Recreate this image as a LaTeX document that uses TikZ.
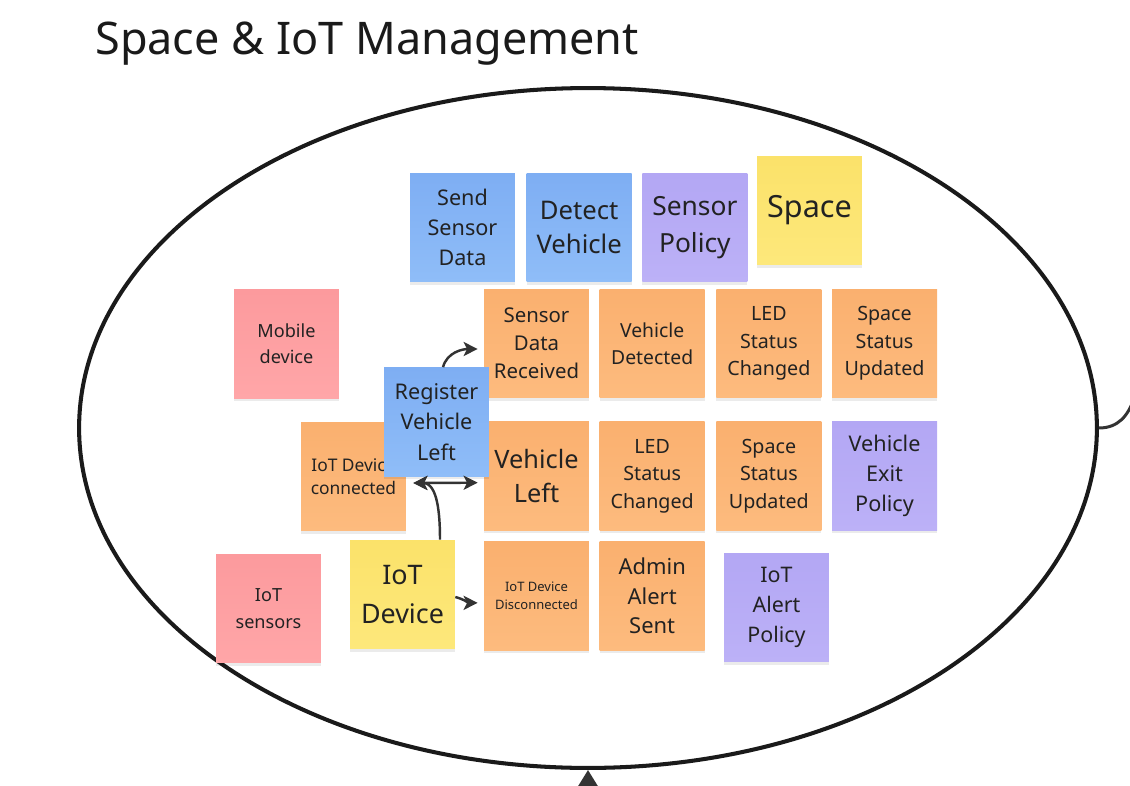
\documentclass[tikz,border=0pt]{standalone}
\usepackage{fontspec}
\setmainfont{Noto Sans}
\usepackage{xcolor}
\usetikzlibrary{arrows.meta,positioning,shapes.geometric,shadows}

\definecolor{inkgray}{HTML}{222222}
\definecolor{rimgray}{HTML}{1A1A1A}
\definecolor{wiregray}{HTML}{333333}
\definecolor{blueA}{HTML}{7EAEF3}
\definecolor{blueB}{HTML}{8FBDF8}
\definecolor{orangeA}{HTML}{FAB06F}
\definecolor{orangeB}{HTML}{FDBB7E}
\definecolor{purpleA}{HTML}{B3A7F4}
\definecolor{purpleB}{HTML}{BCB1F7}
\definecolor{yellowA}{HTML}{FBE26A}
\definecolor{yellowB}{HTML}{FDE87B}
\definecolor{pinkA}{HTML}{FC9A9D}
\definecolor{pinkB}{HTML}{FFA6A8}

\newcommand{\notefont}[2]{\fontsize{#1}{#2}\selectfont}

\begin{document}
\begin{tikzpicture}[
  x=0.02cm, y=-0.02cm,
  sticky/.style={minimum width=2.1cm, minimum height=2.18cm, inner sep=1pt,
    align=center, text=inkgray,
    drop shadow={shadow xshift=0pt, shadow yshift=-1.5pt, opacity=0.08, fill=black}},
  bluenote/.style={sticky, top color=blueA, bottom color=blueB},
  orangenote/.style={sticky, top color=orangeA, bottom color=orangeB},
  purplenote/.style={sticky, top color=purpleA, bottom color=purpleB},
  yellownote/.style={sticky, top color=yellowA, bottom color=yellowB},
  pinknote/.style={sticky, top color=pinkA, bottom color=pinkB},
  arr/.style={-{Stealth[length=8pt, width=8pt, inset=2pt]}, line width=1.4pt, draw=wiregray},
  arrtwo/.style={{Stealth[length=8pt, width=8pt, inset=2pt]}-{Stealth[length=8pt, width=8pt, inset=2pt]},
    line width=1.4pt, draw=wiregray},
  arrbig/.style={-{Triangle[length=0.34cm, width=0.4cm]}, line width=1.7pt, draw=wiregray}
]
  \useasboundingbox (0,0) rectangle (1130,785);
  \clip (0,0) rectangle (1130,785);

  \node[anchor=base west, inner sep=0, text=rimgray, font=\notefont{25.6}{30}] (title) at (95,54)
    {Space \& IoT Management};

  % bounded context
  \node[ellipse, draw=rimgray, line width=2.3pt, minimum width=20.36cm, minimum height=13.6cm] (zone) at (588,428) {};

  % commands, policies, aggregate
  \node[bluenote, font=\notefont{12.3}{17}] (sendd) at (462.5,227.5) {Send\\Sensor\\Data};
  \node[bluenote, right=0.22cm of sendd, font=\notefont{14.6}{19.5}] (detect) {Detect\\Vehicle};
  \node[purplenote, right=0.2cm of detect, font=\notefont{15}{21}] (senspol) {Sensor\\Policy};
  \node[yellownote, font=\notefont{17.4}{22}] (space) at (809.5,210.5) {Space};

  % events
  \node[orangenote, font=\notefont{11.6}{16}] (sdrec) at (536.5,343.5) {Sensor\\Data\\Received};
  \node[orangenote, right=0.2cm of sdrec, font=\notefont{11}{15.6}] (vdet) {Vehicle\\Detected};
  \node[orangenote, right=0.22cm of vdet, font=\notefont{11.2}{15.6}] (ledone) {LED\\Status\\Changed};
  \node[orangenote, right=0.2cm of ledone, font=\notefont{11.2}{15.6}] (sstatone) {Space\\Status\\Updated};

  \node[orangenote, below=0.46cm of sdrec, font=\notefont{14.4}{19.3}] (vleft) {Vehicle\\Left};
  \node[orangenote, right=0.2cm of vleft, font=\notefont{11.2}{15.6}] (ledtwo) {LED\\Status\\Changed};
  \node[orangenote, right=0.22cm of ledtwo, font=\notefont{11.2}{15.6}] (sstattwo) {Space\\Status\\Updated};
  \node[purplenote, right=0.2cm of sstattwo, font=\notefont{12.3}{17}] (vexit) {Vehicle\\Exit\\Policy};

  \node[orangenote, below=0.2cm of vleft, font=\notefont{7.4}{9.8}] (iotdis) {IoT Device\\Disconnected};
  \node[orangenote, right=0.2cm of iotdis, font=\notefont{12.5}{17}] (admin) {Admin\\Alert\\Sent};
  \node[purplenote, font=\notefont{12.2}{17}] (iotpol) at (776.5,607.5) {IoT\\Alert\\Policy};

  % actors and devices
  \node[pinknote, font=\notefont{10.3}{15}] (mobile) at (286.5,344) {Mobile\\device};
  \node[orangenote, font=\notefont{9.9}{13.2}] (iotcon) at (353.5,476.5) {IoT Device\\connected};
  \node[pinknote, font=\notefont{10.3}{15}] (sensors) at (268.5,608.5) {IoT\\sensors};
  \node[yellownote, font=\notefont{15.3}{21.7}] (iotdev) at (402.5,594.5) {IoT\\Device};
  \node[bluenote, font=\notefont{12.3}{17.5}] (regvl) at (436.5,422) {Register\\Vehicle\\Left};

  % links
  \draw[arr] ([shift={(6.5,0)}]regvl.north) to[out=75,in=180] ([shift={(-6,5.5)}]sdrec.west);
  \draw[arrtwo] ([shift={(7,6.5)}]iotcon.east) -- ([shift={(-6,6.5)}]vleft.west);
  \draw[arr] ([shift={(37.5,0)}]iotdev.north) to[out=90,in=0] ([shift={(7,6.5)}]iotcon.east);
  \draw[arr] ([shift={(0,2.5)}]iotdev.east) to[out=-15,in=180] ([shift={(-6,7)}]iotdis.west);

  % connectors leaving the frame
  \coordinate (offbelow) at (588,840);
  \coordinate (offright) at (1145,340);
  \draw[arrbig] (offbelow) -- (zone.south);
  \draw[line width=1.7pt, draw=wiregray] (zone.east) to[out=0,in=-100] (offright);
\end{tikzpicture}
\end{document}
